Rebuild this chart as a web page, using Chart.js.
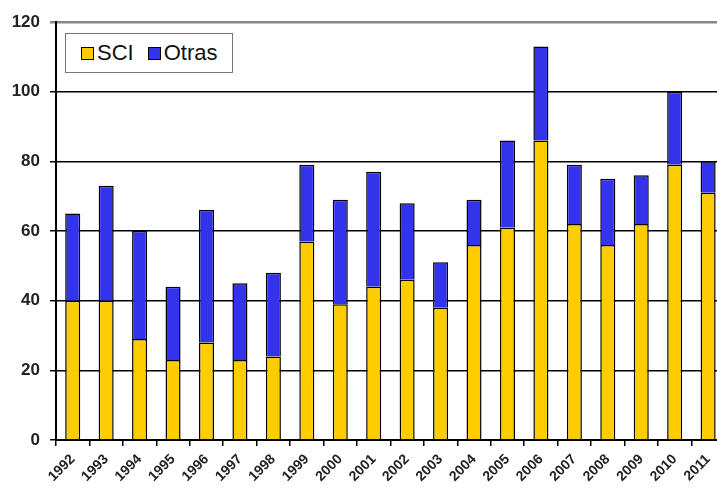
<!DOCTYPE html>
<html lang="es">
<head>
    <meta charset="UTF-8">
    <title>SCI / Otras</title>
    <script src="https://cdn.jsdelivr.net/npm/chart.js"></script>
    <style>
        body {
            margin: 0;
            background: #fff;
            overflow: hidden;
        }

        .wrap {
            position: relative;
            width: 725px;
            height: 494px;
        }

        .legend {
            position: absolute;
            left: 65px;
            top: 33px;
            width: 168px;
            height: 40px;
            box-sizing: border-box;
            border: 1px solid #777;
            background: #fff;
            display: flex;
            align-items: center;
            padding-left: 15px;
            font-family: Arial, "Liberation Sans", sans-serif;
            font-size: 22px;
            color: #111;
        }

        .legend span.box {
            display: inline-block;
            width: 11px;
            height: 11px;
            border: 1px solid #000;
            margin-right: 3px;
        }

        .legend .item {
            display: flex;
            align-items: center;
            margin-right: 14px;
        }
    </style>
</head>
<body>
    <div class="wrap">
        <canvas id="chart"></canvas>
        <div class="legend" id="legend"></div>
    </div>

    <script>
        // Data
        const years = ['1992', '1993', '1994', '1995', '1996', '1997', '1998', '1999', '2000', '2001',
                       '2002', '2003', '2004', '2005', '2006', '2007', '2008', '2009', '2010', '2011'];
        const sci   = [40, 40, 29, 23, 28, 23, 24, 57, 39, 44, 46, 38, 56, 61, 86, 62, 56, 62, 79, 71];
        const otras = [25, 33, 31, 21, 38, 22, 24, 22, 30, 33, 22, 13, 13, 25, 27, 17, 19, 14, 21, 9];
        const yTicks = [0, 20, 40, 60, 80, 100, 120];

        const yellow = '#FFCC00';
        const blue = '#3333EE';

        const ctx = document.getElementById('chart').getContext('2d');
        const chart = new Chart(ctx, {
            type: 'bar',
            data: {
                labels: years,
                datasets: [
                    {
                        label: 'SCI',
                        data: sci,
                        backgroundColor: yellow,
                        borderColor: '#000',
                        borderWidth: 1.5,
                        barPercentage: 0.45,
                        categoryPercentage: 1
                    },
                    {
                        label: 'Otras',
                        data: otras,
                        backgroundColor: blue,
                        borderColor: '#000',
                        borderWidth: 1.5,
                        barPercentage: 0.45,
                        categoryPercentage: 1
                    }
                ]
            },
            options: {
                responsive: true,
                maintainAspectRatio: false,
                animation: false,
                layout: {
                    padding: { top: 22, left: 0, right: 0, bottom: 0 }
                },
                plugins: {
                    legend: { display: false },
                    tooltip: { enabled: false }
                },
                scales: {
                    x: {
                        stacked: true,
                        afterFit: s => { s.height = 54; },
                        border: { color: '#000', width: 2 },
                        grid: {
                            offset: true,
                            drawOnChartArea: false,
                            drawTicks: true,
                            tickLength: 6,
                            color: '#000',
                            lineWidth: 1.5
                        },
                        ticks: {
                            minRotation: 45,
                            maxRotation: 45,
                            autoSkip: false,
                            padding: 5,
                            color: '#222',
                            font: { family: 'Arial, "Liberation Sans", sans-serif', size: 14, weight: 'bold' }
                        }
                    },
                    y: {
                        stacked: true,
                        min: 0,
                        max: 120,
                        afterFit: s => { s.width = 56; },
                        afterBuildTicks: s => { s.ticks = yTicks.map(v => ({ value: v })); },
                        border: { color: '#000', width: 2 },
                        grid: {
                            color: c => (c.tick && c.tick.value === 120 ? '#888' : '#000'),
                            lineWidth: c => (c.tick && c.tick.value === 120 ? 2.5 : 1.5),
                            tickLength: 6
                        },
                        ticks: {
                            padding: 10,
                            color: '#222',
                            font: { family: 'Arial, "Liberation Sans", sans-serif', size: 17, weight: 'bold' }
                        }
                    }
                }
            }
        });

        // HTML legend built from the datasets
        const legend = document.getElementById('legend');
        chart.data.datasets.forEach(ds => {
            const item = document.createElement('div');
            item.className = 'item';
            const box = document.createElement('span');
            box.className = 'box';
            box.style.background = ds.backgroundColor;
            item.appendChild(box);
            item.appendChild(document.createTextNode(ds.label));
            legend.appendChild(item);
        });
    </script>
</body>
</html>
